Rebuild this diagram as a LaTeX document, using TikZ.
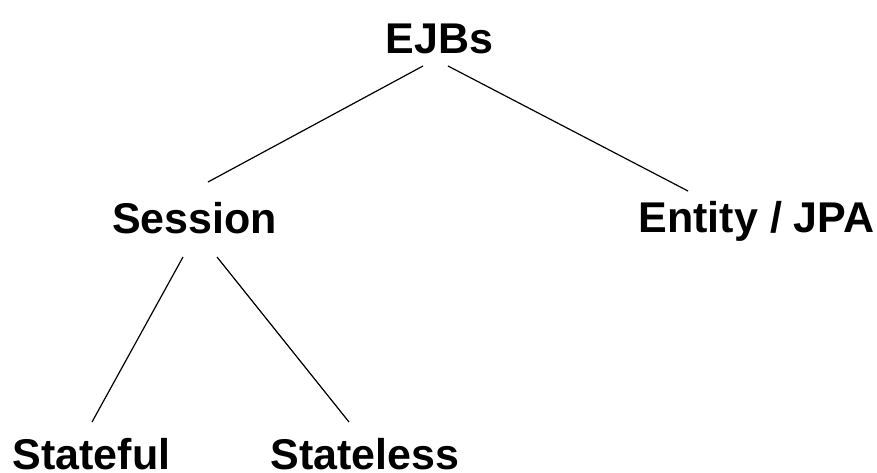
\documentclass[tikz,border=0pt]{standalone}
\usepackage{fontspec}
\setmainfont{Liberation Sans}
\usetikzlibrary{calc}
\begin{document}
\begin{tikzpicture}[x=1pt,y=-1pt,
  lbl/.style={anchor=base,inner sep=0pt,font=\fontsize{43}{50}\selectfont\bfseries},
  edge/.style={line width=1.2pt,black}]
\useasboundingbox (0,0) rectangle (877,472);
\node[lbl] (ejbs) at (439.5,53) {EJBs};
\node[lbl] (session) at (194.5,233) {Session};
\node[lbl] (entity) at (756.5,232) {Entity / JPA};
\node[lbl] (stateful) at (91.5,469) {Stateful};
\node[lbl] (stateless) at (365,469) {Stateless};
\draw[edge] ($(ejbs.base)+(-16.5,13)$) -- ($(session.base)+(13.5,-51)$);
\draw[edge] ($(ejbs.base)+(8.5,13)$) -- ($(entity.base)+(-68.5,-41)$);
\draw[edge] ($(session.base)+(-11.5,24)$) -- ($(stateful.base)+(0.5,-47)$);
\draw[edge] ($(session.base)+(22.5,24)$) -- ($(stateless.base)+(-16,-47)$);
\end{tikzpicture}
\end{document}
